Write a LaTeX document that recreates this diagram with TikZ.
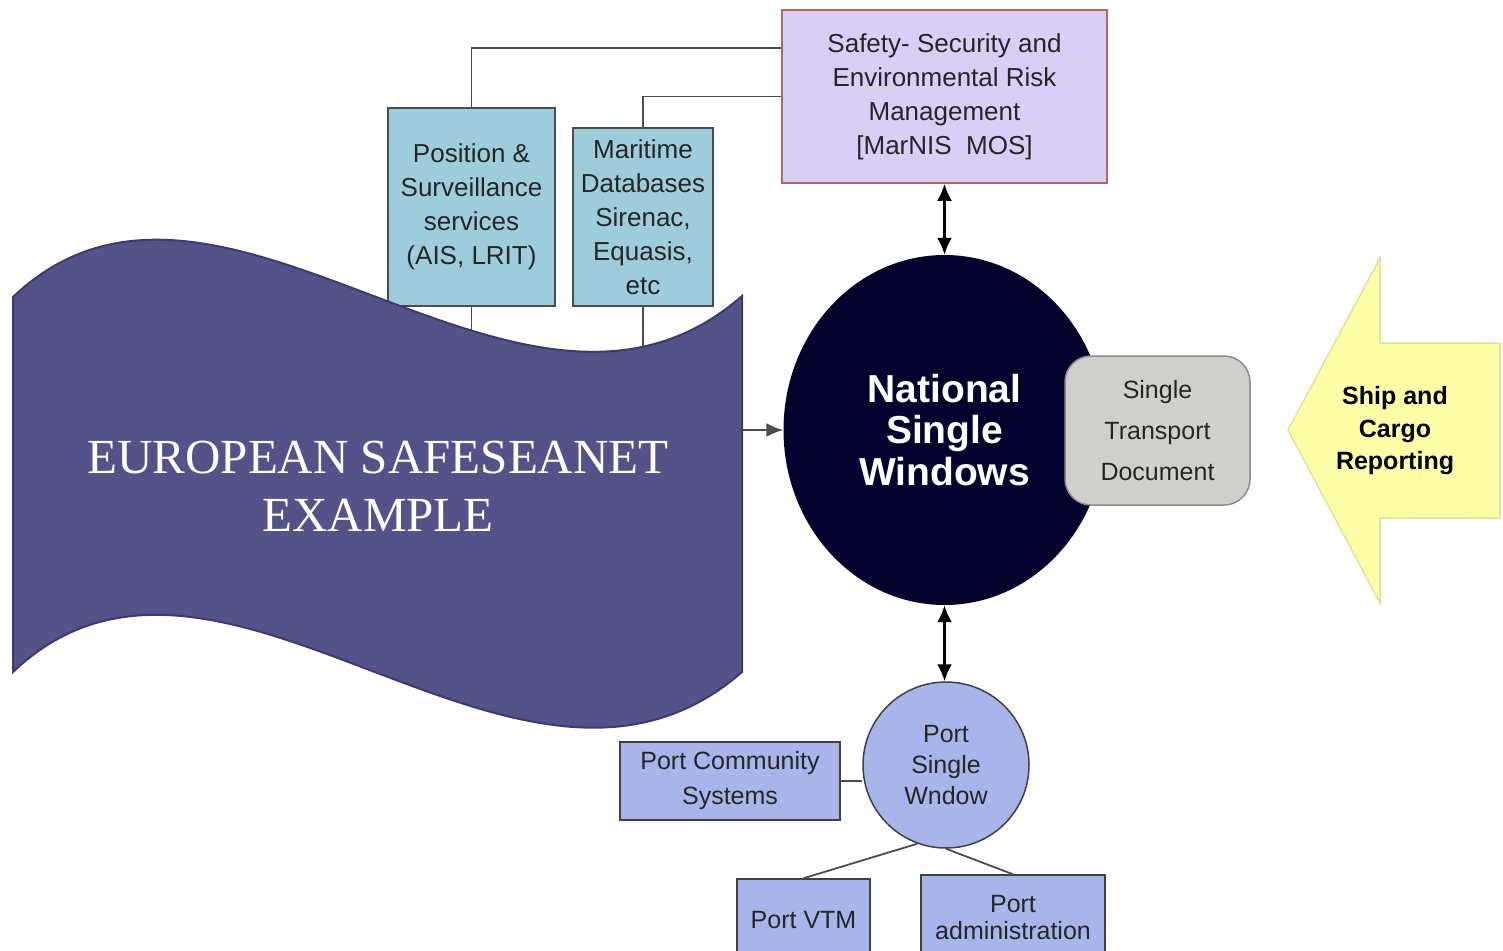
\documentclass[tikz,border=0pt]{standalone}
\usepackage{fontspec}
\setmainfont{Liberation Sans}
\newfontfamily\bannerfont{Liberation Serif}
\usepackage{tikz}
\usetikzlibrary{arrows.meta, shapes.geometric, calc}

\definecolor{riskfill}{HTML}{D9CEF6}
\definecolor{riskline}{HTML}{B5675A}
\definecolor{srcfill}{HTML}{9DCDDA}
\definecolor{nswfill}{HTML}{03032E}
\definecolor{stdfill}{HTML}{CFD0CC}
\definecolor{portfill}{HTML}{A9B5EA}
\definecolor{shipfill}{HTML}{FFFFA8}
\definecolor{shipline}{HTML}{E0E098}
\definecolor{bannerfill}{HTML}{535389}
\definecolor{bannerline}{HTML}{3B3B6C}
\definecolor{inktext}{HTML}{262626}

\begin{document}
\begin{tikzpicture}[x=1pt, y=-1pt,
  every node/.style={align=center, text=inktext, inner sep=0pt,
    font=\fontsize{26}{34}\selectfont},
  riskbox/.style={draw=riskline, fill=riskfill, line width=1.5pt},
  srcbox/.style={draw=black!70, fill=srcfill, line width=1.5pt},
  portbox/.style={draw=black!75, fill=portfill, line width=1.5pt},
  conn/.style={draw=black!70, line width=1.8pt},
  twoway/.style={line width=2.5pt, {Latex[length=17pt,width=15pt]}-{Latex[length=17pt,width=15pt]}}]
  \clip (0,0) rectangle (1503,950);

  \node[riskbox, minimum width=325, minimum height=173] (risk) at (944.5,96.5)
    {Safety- Security and\\Environmental Risk\\Management\\{[}MarNIS\ \ MOS{]}};
  \node[srcbox, minimum width=167, minimum height=198] (pos) at (471.5,207)
    {Position \&\\Surveillance\\services\\(AIS, LRIT)};
  \node[srcbox, minimum width=140, minimum height=178] (mar) at (643,217)
    {Maritime\\Databases\\Sirenac,\\Equasis,\\etc};

  \draw[conn] (pos.north) |- ($(risk.north west)!0.22!(risk.south west)$);
  \draw[conn] (mar.north) |- (risk.west);

  \node[ellipse, fill=nswfill, minimum width=322, minimum height=350,
    text=white, font=\fontsize{39}{41.5}\selectfont\bfseries] (nsw) at (944.5,430)
    {National\\Single\\Windows};
  \node[draw=black!45, fill=stdfill, line width=1.5pt, rounded corners=26,
    minimum width=185, minimum height=149, font=\fontsize{25}{41}\selectfont] (std)
    at (1157.5,430.5) {Single\\Transport\\Document};

  \draw[conn, -{Latex[length=17pt,width=14pt]}] (pos.south) |- (nsw.west);
  \draw[conn] (mar.south) -- (mar.south |- nsw.west);

  \draw[twoway] (risk.south) -- (nsw.north);

  \draw[draw=shipline, fill=shipfill, line width=1.5pt]
    (1500,343) -- (1380,343) -- (1380,258) -- (1288,430) -- (1380,603)
    -- (1380,518) -- (1500,518) -- cycle;
  \node[font=\fontsize{25}{32.5}\selectfont\bfseries, text=black] (ship) at (1395,431)
    {Ship and\\Cargo\\Reporting};

  \node[circle, portbox, minimum size=166, font=\fontsize{25}{31}\selectfont] (psw)
    at (946,765) {Port\\Single\\Wndow};
  \draw[twoway] (nsw.south) -- (nsw.south |- psw.north);

  \node[portbox, minimum width=220, minimum height=78, font=\fontsize{25}{35}\selectfont]
    (pcs) at (730,781) {Port Community\\Systems};
  \node[portbox, minimum width=133, minimum height=82, font=\fontsize{25}{27}\selectfont]
    (vtm) at (803.5,920) {Port VTM};
  \node[portbox, minimum width=184, minimum height=85, font=\fontsize{25}{27}\selectfont]
    (adm) at (1013,917.5) {Port\\administration};

  \draw[conn] (pcs.east) -- (pcs.east -| psw.west);
  \draw[conn] (psw.250) -- (vtm.north);
  \draw[conn] (psw.south) -- (adm.north);

  \draw[draw=bannerline, fill=bannerfill, line width=2pt]
    (13,297) .. controls (220,100) and (520,490) .. (742,296) -- (742,672)
    .. controls (520,866) and (220,475) .. (13,672) -- cycle;
  \node[text=white, font=\bannerfont\fontsize{49}{58}\selectfont] (title) at (378,486)
    {EUROPEAN SAFESEANET\\EXAMPLE};
\end{tikzpicture}
\end{document}
